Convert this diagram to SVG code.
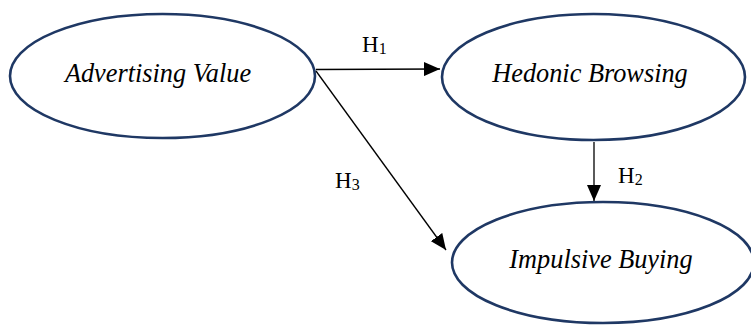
<svg xmlns="http://www.w3.org/2000/svg" width="751" height="325" viewBox="0 0 751 325">
<style>
.node ellipse{fill:#fff;stroke:#1f3864;stroke-width:2.6}
.node text{font-family:"Liberation Serif","Times New Roman",serif;font-style:italic;font-size:26.3px;fill:#000;text-anchor:middle}
.lbl{font-family:"Liberation Serif","Times New Roman",serif;font-size:23px;fill:#000}
.lbl tspan.s{font-size:16px}
.conn line{stroke:#000;stroke-width:1.3;fill:none}
</style>
<defs>
<marker id="ah" markerUnits="userSpaceOnUse" markerWidth="16" markerHeight="14" refX="16" refY="7" orient="auto">
<path d="M0,0 L16,7 L0,14 Z" fill="#000"/>
</marker>
</defs>
<rect width="751" height="325" fill="#fff"/>
<g id="advertising-value" class="node">
<ellipse cx="162.5" cy="76" rx="152.5" ry="62"/>
<text x="158" y="82">Advertising Value</text>
</g>
<g id="hedonic-browsing" class="node">
<ellipse cx="593.5" cy="77" rx="151.5" ry="63"/>
<text x="590" y="82">Hedonic Browsing</text>
</g>
<g id="impulsive-buying" class="node">
<ellipse cx="603" cy="262.5" rx="151" ry="60.5"/>
<text x="601" y="268">Impulsive Buying</text>
</g>
<g id="connectors" class="conn">
<line x1="316" y1="69.5" x2="440" y2="69" marker-end="url(#ah)"/>
<line x1="594" y1="142" x2="594" y2="201" marker-end="url(#ah)"/>
<line x1="316" y1="71" x2="446" y2="250" marker-end="url(#ah)"/>
</g>
<g id="labels">
<text class="lbl" x="362" y="52">H<tspan class="s" dy="2">1</tspan></text>
<text class="lbl" x="618" y="183">H<tspan class="s" dy="2">2</tspan></text>
<text class="lbl" x="335" y="188">H<tspan class="s" dy="2">3</tspan></text>
</g>
</svg>
